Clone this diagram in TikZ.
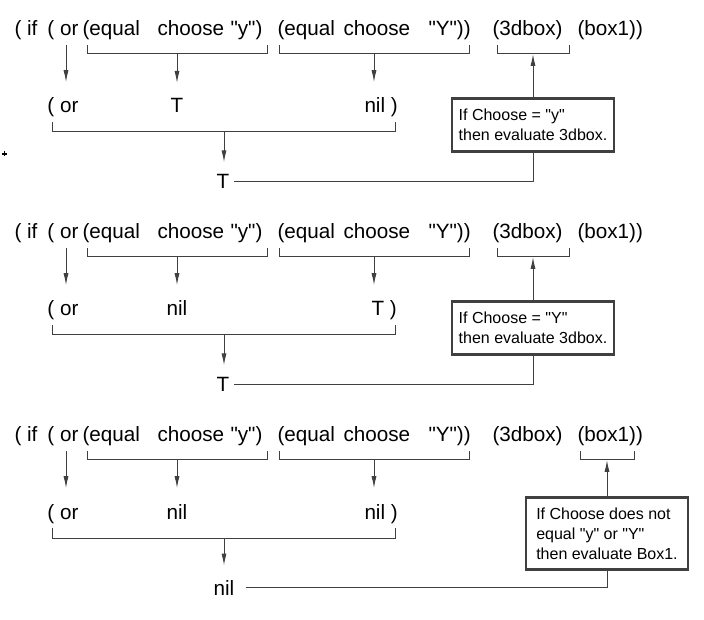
\documentclass[tikz,border=0pt]{standalone}
\usepackage{fontspec}
\newfontfamily\lispfont{Liberation Sans}
\usetikzlibrary{arrows.meta}

\definecolor{lnk}{RGB}{64,64,64}
\tikzset{every picture/.style={line width=0.75pt}}
\tikzset{
  code/.style={anchor=base west, inner sep=0pt, font=\lispfont\fontsize{15.5}{19}\selectfont},
  codec/.style={code, anchor=base},
  brk/.style={draw=lnk},
  flow/.style={draw=lnk, -{Latex[length=9pt,width=3.8pt]}},
  note/.style={draw=lnk, line width=2.2pt, align=left, inner sep=0pt,
    font=\lispfont\fontsize{12}{15}\selectfont, minimum width=121.5pt, minimum height=39.75pt},
}

% the lisp expression and the brackets that every panel repeats
\newcommand{\exprline}{%
  % Text Node
  \node[code] (if) at (14,36) {( if};
  \node[code] (or) at (47,36) {( or};
  \node[code] (eq1) at (82,36) {(equal};
  \node[code] (ch1) at (157,36) {choose};
  \node[code] (lit1) at (230,36) {"y")};
  \node[code] (eq2) at (277,36) {(equal};
  \node[code] (ch2) at (343,36) {choose};
  \node[code] (lit2) at (428,36) {"Y"))};
  \node[code] (then) at (492,36) {(3dbox)};
  \node[code] (else) at (577,36) {(box1))};
  % Brackets
  \draw[brk] (87,45) -- (87,54) -- (267,54) -- (267,45);
  \draw[brk] (279,45) -- (279,54) -- (469,54) -- (469,45);
  \draw[brk] (52,122) -- (52,132) -- (395,132) -- (395,122);
  \coordinate (s0) at (66,45);
  \coordinate (s1) at (177,54);
  \coordinate (s2) at (374,54);
  \coordinate (s3) at (224,132);
}

\begin{document}
\begin{tikzpicture}[x=0.75pt,y=0.75pt,yscale=-1,xscale=1]
\useasboundingbox (0,0) rectangle (704,620);

%Shape: small cross
\draw[line width=1pt] (2,154) -- (7,154) (4.5,151.5) -- (4.5,156.5);

%Panel: choose = "y"
\begin{scope}[name prefix=a-]
  \exprline
  \node[code] (or2) at (47,113) {( or};
  \node[codec] (v1) at (177,113) {T};
  \node[code] (v2) at (364,113) {nil )};
  \draw[flow, shorten >=11.5pt] (s0) -- (s0 |- or2.north);
  \draw[flow, shorten >=11.5pt] (s1) -- (s1 |- v1.north);
  \draw[flow, shorten >=11.5pt] (s2) -- (s2 |- v2.north);
  \node[codec, inner xsep=3pt] (res) at (223,189) {T};
  \draw[flow, shorten >=9pt] (s3) -- (s3 |- res.north);
  % Box
  \node[note] (box) at (533,125) {If Choose = "y"\\then evaluate 3dbox.};
  \draw[brk] (497,45) -- (497,54) -- (569,54) -- (569,45);
  \coordinate (s4) at (533,54);
  \draw[flow] (box.north) -- (s4);
  \draw[brk] (box.south) |- (res.east);
\end{scope}

%Panel: choose = "Y"
\begin{scope}[shift={(0,203)}, name prefix=b-]
  \exprline
  \node[code] (or2) at (47,113) {( or};
  \node[codec] (v1) at (177,113) {nil};
  \node[code] (v2) at (371,113) {T )};
  \draw[flow, shorten >=11.5pt] (s0) -- (s0 |- or2.north);
  \draw[flow, shorten >=11.5pt] (s1) -- (s1 |- v1.north);
  \draw[flow, shorten >=11.5pt] (s2) -- (s2 |- v2.north);
  \node[codec, inner xsep=3pt] (res) at (223,189) {T};
  \draw[flow, shorten >=9pt] (s3) -- (s3 |- res.north);
  % Box
  \node[note] (box) at (533,125) {If Choose = "Y"\\then evaluate 3dbox.};
  \draw[brk] (497,45) -- (497,54) -- (569,54) -- (569,45);
  \coordinate (s4) at (533,54);
  \draw[flow] (box.north) -- (s4);
  \draw[brk] (box.south) |- (res.east);
\end{scope}

%Panel: anything else
\begin{scope}[shift={(0,406)}, name prefix=c-]
  \exprline
  \node[code] (or2) at (47,113) {( or};
  \node[codec] (v1) at (177,113) {nil};
  \node[code] (v2) at (364,113) {nil )};
  \draw[flow, shorten >=11.5pt] (s0) -- (s0 |- or2.north);
  \draw[flow, shorten >=11.5pt] (s1) -- (s1 |- v1.north);
  \draw[flow, shorten >=11.5pt] (s2) -- (s2 |- v2.north);
  \node[codec, inner xsep=3pt] (res) at (224,189) {nil};
  \draw[flow, shorten >=10.5pt] (s3) -- (s3 |- res.north);
  % Box
  \node[note, minimum height=54pt] (box) at (607,127.5) {If Choose does not\\equal "y" or "Y"\\then evaluate Box1.};
  \draw[brk] (580,45) -- (580,54) -- (634,54) -- (634,45);
  \coordinate (s4) at (607,54);
  \draw[flow] (box.north) -- (s4);
  \draw[brk, shorten <=5pt] (res.east) -| (box.south);
\end{scope}
\end{tikzpicture}
\end{document}
